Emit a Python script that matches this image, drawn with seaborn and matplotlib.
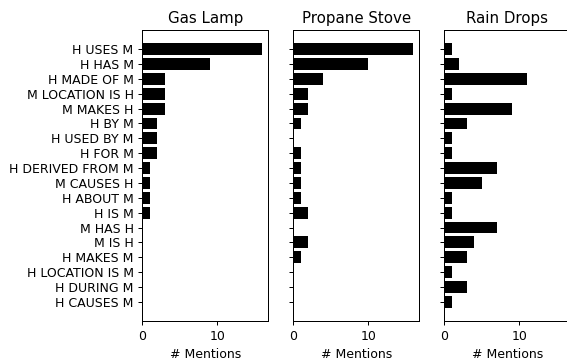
import numpy as np
import pandas as pd
import matplotlib
matplotlib.use('Agg')
import matplotlib.pyplot as plt
from matplotlib.ticker import MultipleLocator
import seaborn as sns

relations = ['H USES M', 'H HAS M', 'H MADE OF M', 'M LOCATION IS H', 'M MAKES H',
             'H BY M', 'H USED BY M', 'H FOR M', 'H DERIVED FROM M', 'M CAUSES H',
             'H ABOUT M', 'H IS M', 'M HAS H', 'M IS H', 'H MAKES M',
             'H LOCATION IS M', 'H DURING M', 'H CAUSES M']
gas_lamp = [16, 9, 3, 3, 3, 2, 2, 2, 1, 1, 1, 1, 0, 0, 0, 0, 0, 0]
propane_stove = [16, 10, 4, 2, 2, 1, 0, 1, 1, 1, 1, 2, 0, 2, 1, 0, 0, 0]
rain_drops = [1, 2, 11, 1, 9, 3, 1, 1, 7, 5, 1, 1, 7, 4, 3, 1, 3, 1]
titles = ['Gas Lamp', 'Propane Stove', 'Rain Drops']

# drawn at 90 dpi so that 6.3 x 4 in gives 567 x 360 px
fig, axes = plt.subplots(1, 3, figsize=(6.3, 4.0), dpi=90, sharex=True, sharey=True)

n = len(relations)
pad = 0.05 * (n - 1 + 0.8)
for i, (ax, vals, title) in enumerate(zip(axes, [gas_lamp, propane_stove, rain_drops], titles)):
    df = pd.DataFrame({'relation': relations, 'count': vals})
    sns.barplot(data=df, y='relation', x='count', order=relations, color='black',
                saturation=1, width=0.8, ax=ax)
    ax.set_title(title, fontsize=12)
    ax.set_xlabel('# Mentions', fontsize=10)
    ax.set_ylabel('')
    ax.set_xlim(0, 16.8)
    ax.set_ylim(n - 1 + 0.4 + pad, -0.4 - pad)
    ax.xaxis.set_major_locator(MultipleLocator(10))
    for s in ax.spines.values():
        s.set_visible(True)
        s.set_color('black')
        s.set_linewidth(0.8)
    ax.set_position([(142.3 + 151 * i) / 567, (360 - 321) / 360, 126 / 567, 291 / 360])
    if i > 0:
        ax.tick_params(axis='y', labelleft=False)

fig.savefig('out.png', dpi=90)
